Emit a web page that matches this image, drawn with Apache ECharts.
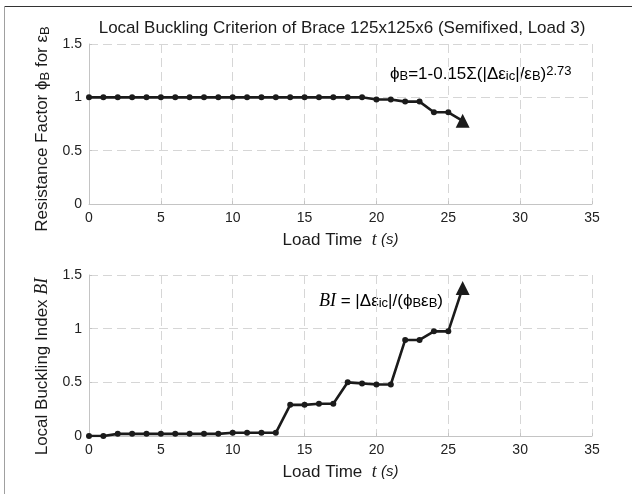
<!DOCTYPE html>
<html>
<head>
<meta charset="utf-8">
<script src="https://cdn.jsdelivr.net/npm/echarts@6/dist/echarts.min.js"></script>
<style>
  html, body { margin: 0; padding: 0; background: #fff; }
  #chart { width: 632px; height: 494px; }
</style>
</head>
<body>
<div id="chart"></div>
<script>
  // load steps (s) and the two criteria
  var loadTime = [0, 1, 2, 3, 4, 5, 6, 7, 8, 9, 10, 11, 12, 13, 14, 15, 16, 17, 18, 19, 20, 21, 22, 23, 24, 25, 26];
  var phiB = [1, 1, 1, 1, 1, 1, 1, 1, 1, 1, 1, 1, 1, 1, 1, 1, 1, 1, 1, 1,
              0.98, 0.98, 0.96, 0.96, 0.86, 0.86, 0.78];
  var bucklingIndex = [0, 0, 0.02, 0.02, 0.02, 0.02, 0.02, 0.02, 0.02, 0.02, 0.03, 0.03, 0.03, 0.03,
                       0.29, 0.29, 0.30, 0.30, 0.50, 0.49, 0.48, 0.48, 0.895, 0.895, 0.975, 0.975, 1.38];
  var xTicks = [0, 35, 5];      // min, max, interval
  var yTicks = [0, 1.5, 0.5];

  var SANS = '"Liberation Sans", Arial, sans-serif';
  var SERIF = '"Liberation Serif", "Times New Roman", serif';
  var INK = '#1b1b1b';
  var PHI = '\u03d5';

  // rich-text pieces for sub/superscripts
  function richSet(size) {
    var sm = Math.round(size * 0.78);
    return {
      n: { fontSize: size, fontFamily: SANS, color: INK, lineHeight: 18, verticalAlign: 'middle' },
      sub: { fontSize: sm, fontFamily: SANS, color: INK, lineHeight: 13, verticalAlign: 'bottom' },
      sup: { fontSize: sm, fontFamily: SANS, color: INK, lineHeight: 13, verticalAlign: 'top' },
      it: { fontSize: size + 1, fontFamily: SERIF, fontStyle: 'italic', color: INK, lineHeight: 18, verticalAlign: 'middle' },
      its: { fontSize: size - 2, fontFamily: SANS, fontStyle: 'italic', color: INK, lineHeight: 18, verticalAlign: 'middle' },
      gap: { fontSize: size, width: 22, lineHeight: 18 },
      gap2: { fontSize: size, width: 10, lineHeight: 18 }
    };
  }

  function points(ys) {
    return loadTime.map(function (t, i) {
      var p = { value: [t, ys[i]] };
      if (i === loadTime.length - 1) { p.symbol = 'triangle'; p.symbolSize = 14; }
      return p;
    });
  }

  function xAxis(gridIndex) {
    return {
      type: 'value', gridIndex: gridIndex,
      min: xTicks[0], max: xTicks[1], interval: xTicks[2],
      name: '{n|Load Time  }{it|t}{its| (s)}',
      nameLocation: 'middle', nameGap: 27,
      nameTextStyle: { fontSize: 17, fontFamily: SANS, color: INK, lineHeight: 26, rich: richSet(17) },
      axisLine: { lineStyle: { color: '#c4c4c4', width: 1 } },
      axisTick: { inside: true, length: 3, lineStyle: { color: '#c4c4c4' } },
      axisLabel: { fontSize: 14, fontFamily: SANS, color: '#222', margin: 7 },
      splitLine: { show: true, lineStyle: { color: '#d6d6d6', type: [9, 5] } }
    };
  }

  function yAxis(gridIndex, name, gap) {
    return {
      type: 'value', gridIndex: gridIndex,
      min: yTicks[0], max: yTicks[1], interval: yTicks[2],
      name: name, nameLocation: 'middle', nameGap: gap,
      nameTextStyle: { fontSize: 17, fontFamily: SANS, color: INK, lineHeight: 26, rich: richSet(17) },
      axisLine: { show: true, lineStyle: { color: '#c4c4c4', width: 1 } },
      axisTick: { show: true, inside: true, length: 3, lineStyle: { color: '#c4c4c4' } },
      axisLabel: { fontSize: 14, fontFamily: SANS, color: '#222', margin: 7 },
      splitLine: { show: true, lineStyle: { color: '#d6d6d6', type: [9, 5] } }
    };
  }

  function lineSeries(idx, ys) {
    return {
      type: 'line', xAxisIndex: idx, yAxisIndex: idx,
      data: points(ys),
      symbol: 'circle', symbolSize: 6,
      lineStyle: { color: INK, width: 2.6 },
      itemStyle: { color: INK },
      animation: false
    };
  }

  var chart = echarts.init(document.getElementById('chart'));
  chart.setOption({
    backgroundColor: '#fff',
    animation: false,
    title: {
      text: 'Local Buckling Criterion of Brace 125x125x6 (Semifixed, Load 3)',
      left: 337, top: 15, textAlign: 'center',
      textStyle: { fontSize: 17, fontWeight: 'normal', fontFamily: SANS, color: INK }
    },
    grid: [
      { left: 89, width: 503, top: 44, height: 160 },
      { left: 89, width: 503, top: 275, height: 161 }
    ],
    xAxis: [xAxis(0), xAxis(1)],
    yAxis: [
      yAxis(0, '{n|Resistance Factor }{n|' + PHI + '}{sub|B}{n| for }{n|\u03b5}{sub|B}{gap2| }', 30),
      yAxis(1, '{n|Local Buckling Index }{it|BI}{gap| }', 30)
    ],
    series: [lineSeries(0, phiB), lineSeries(1, bucklingIndex)],
    graphic: [
      { type: 'line', shape: { x1: 4, y1: 6.5, x2: 632, y2: 6.5 }, style: { stroke: '#333', lineWidth: 1 } },
      { type: 'line', shape: { x1: 4.5, y1: 6, x2: 4.5, y2: 494 }, style: { stroke: '#a0a0a0', lineWidth: 1 } },
      {
        type: 'text', left: 390, top: 65,
        style: {
          text: '{n|' + PHI + '}{sub|B}{n|=1-0.15\u03a3(|\u0394\u03b5}{sub|ic}{n||/\u03b5}{sub|B}{n|)}{sup|2.73}',
          rich: richSet(17), font: '17px ' + SANS, lineHeight: 26
        }
      },
      {
        type: 'text', left: 319, top: 292,
        style: {
          text: '{it|BI}{n| = |\u0394\u03b5}{sub|ic}{n||/(' + PHI + '}{sub|B}{n|\u03b5}{sub|B}{n|)}',
          rich: richSet(17), font: '17px ' + SANS, lineHeight: 26
        }
      }
    ]
  });
</script>
</body>
</html>
